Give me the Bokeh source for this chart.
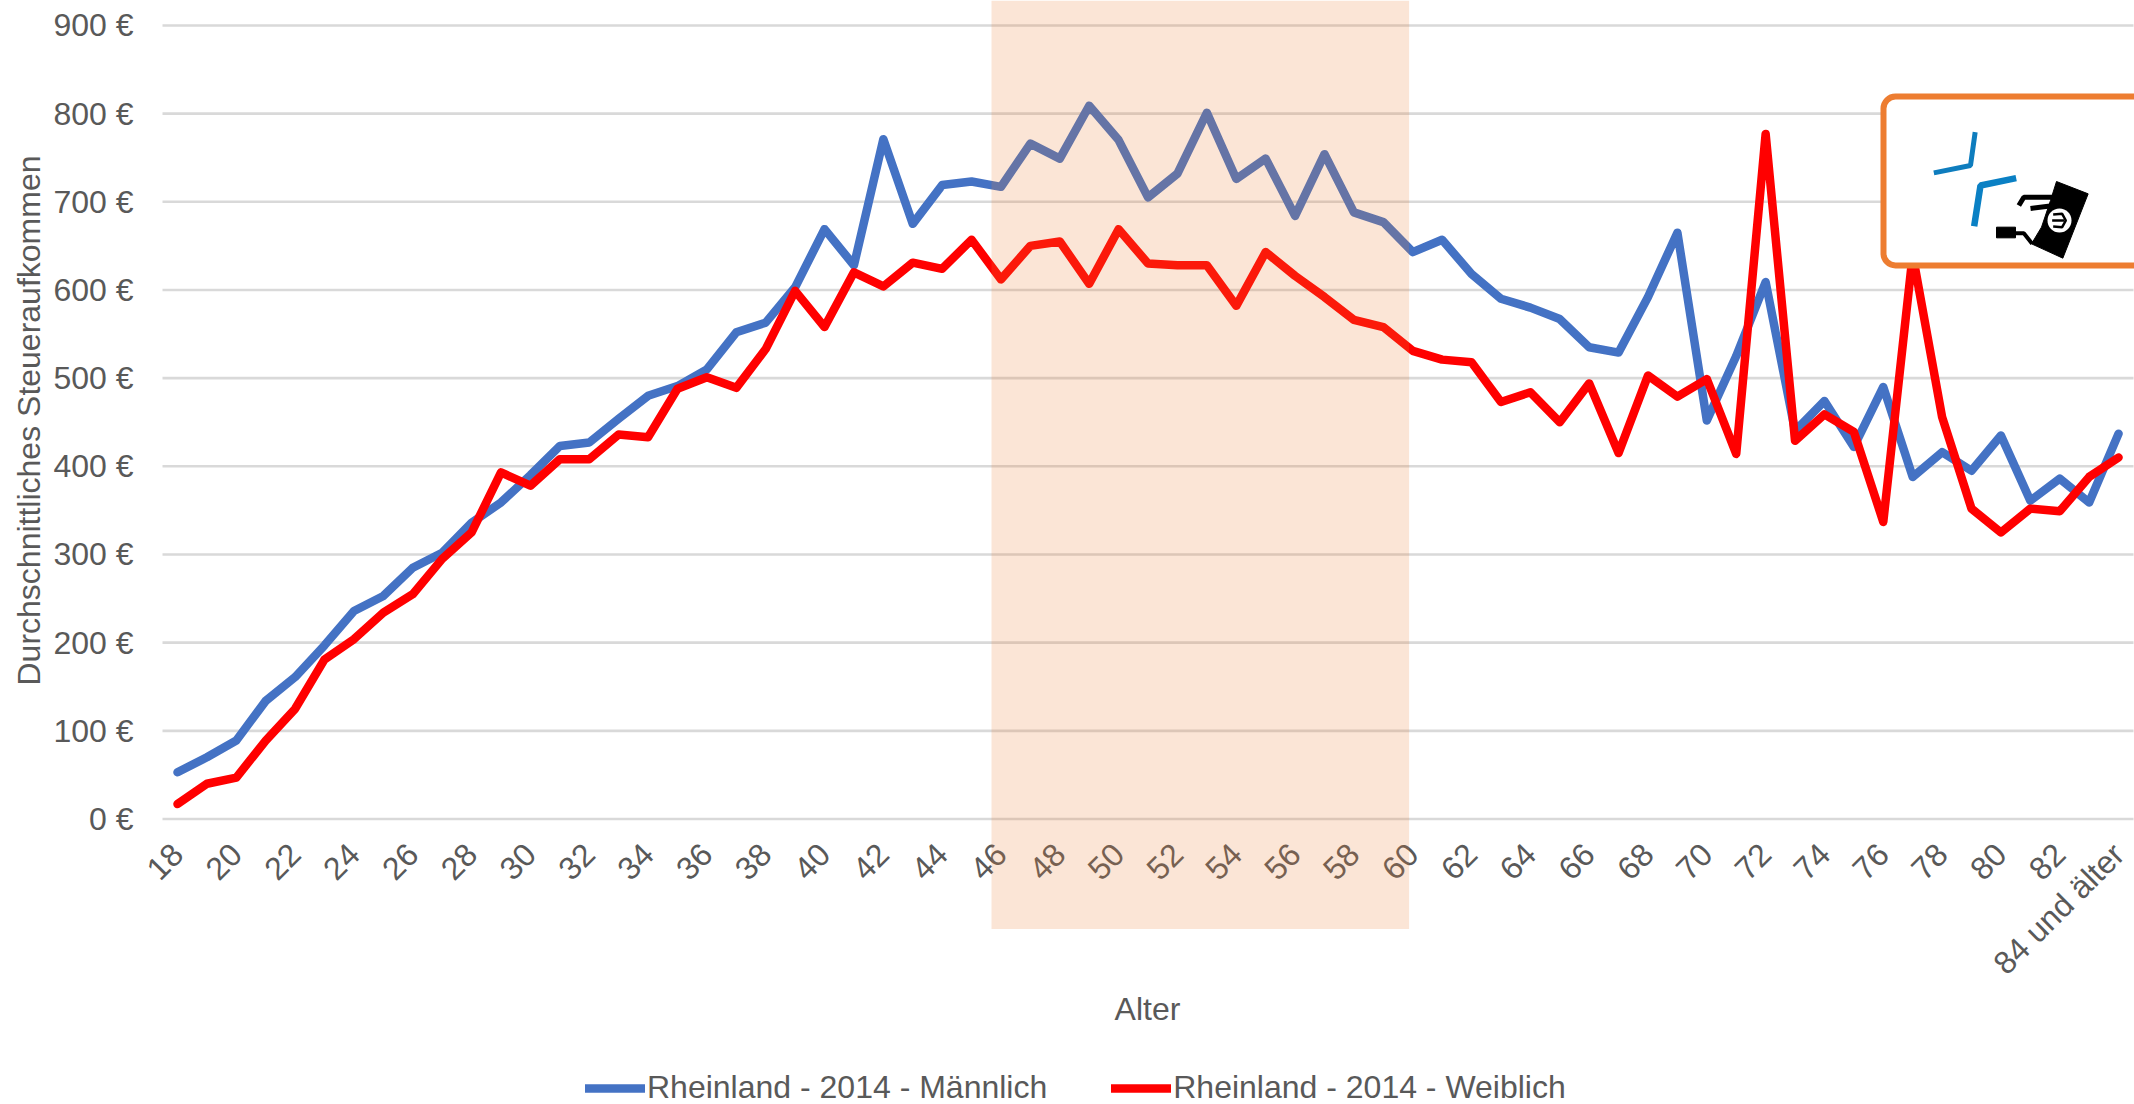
from bokeh.plotting import figure
from bokeh.embed import file_html
from bokeh.resources import INLINE
from bokeh.models import BoxAnnotation, Range1d, FixedTicker, Legend, LegendItem, Label
import math

ages = list(range(18, 85))
last_label = "84 und älter"
maennlich = [53,70,89,134,161,197,236,253,285,302,336,359,390,423,427,454,480,491,510,552,563,603,669,628,771,675,719,723,717,
             766,749,809,770,705,732,801,726,749,684,754,688,677,643,657,618,590,580,567,535,529,592,665,452,525,609,440,474,
             422,490,388,416,395,435,361,386,359,437]
weiblich = [17,40,47,89,125,181,204,234,255,295,325,393,378,408,408,436,433,488,501,489,533,599,558,620,604,631,624,657,612,
            650,655,607,669,630,628,628,582,643,616,592,566,558,531,521,518,473,484,450,494,415,503,479,499,414,777,429,459,
            439,337,640,456,352,325,352,349,388,410]
y_ticks = [0,100,200,300,400,500,600,700,800,900]
series_names = ["Rheinland - 2014 - Männlich", "Rheinland - 2014 - Weiblich"]
x_title = "Alter"
y_title = "Durchschnittliches Steueraufkommen"

W, H = 2134, 1104
FONT = "Liberation Sans"
TXT = "#595959"

def dx(px): return 18 + (px - 177) / 29.41
def dy(py): return (818.5 - py) / 0.8817

p = figure(width=W, height=H, output_backend="svg", toolbar_location=None,
           x_range=Range1d(dx(0), dx(W)), y_range=Range1d(dy(H), dy(0)),
           min_border_left=0, min_border_right=0, min_border_top=0,
           min_border_bottom=0, outline_line_color=None, background_fill_color="white")

p.xgrid.visible = False
p.ygrid.visible = False
p.segment(x0=[dx(162)] * len(y_ticks), x1=[dx(2133)] * len(y_ticks), y0=y_ticks, y1=y_ticks,
          line_color="#D9D9D9", line_width=2.6, level="underlay")

ax = p.xaxis[0]
ax.fixed_location = 0
ax.ticker = FixedTicker(ticks=ages[::2])
ax.major_label_overrides = {a: (last_label if a == 84 else str(a)) for a in ages[::2]}
ax.major_label_orientation = math.pi / 4
ax.major_label_standoff = 24
ay = p.yaxis[0]
ay.fixed_location = dx(140)
ay.ticker = FixedTicker(ticks=y_ticks)
ay.major_label_overrides = {v: f"{v} €" for v in y_ticks}
ay.major_label_standoff = 1
for a in (ax, ay):
    a.axis_line_color = None
    a.major_tick_line_color = None
    a.minor_tick_line_color = None
    a.major_label_text_font = FONT
    a.major_label_text_font_size = "32px"
    a.major_label_text_color = TXT

p.add_layout(Label(x=dx(1147), y=dy(1008), text=x_title, text_align="center", text_baseline="middle",
                   text_font=FONT, text_font_size="32px", text_color=TXT))
p.add_layout(Label(x=dx(28), y=dy(420), text=y_title, angle=math.pi / 2, text_align="center", text_baseline="middle",
                   text_font=FONT, text_font_size="32px", text_color=TXT))

l1 = p.line(ages, maennlich, line_color="#4472C4", line_width=8.5, line_join="round", line_cap="round")
l2 = p.line(ages, weiblich, line_color="#FF0000", line_width=8.5, line_join="round", line_cap="round")

band = BoxAnnotation(left=dx(991), right=dx(1408.6), top=dy(0), bottom=dy(928.5),
                     fill_color="#ED7D31", fill_alpha=0.2, line_color=None, level="overlay")
p.add_layout(band)

box = BoxAnnotation(left=dx(1883), right=dx(2160), top=dy(96), bottom=dy(265),
                    fill_color="white", fill_alpha=1, line_color="#ED7D31", line_alpha=1, line_width=6,
                    border_radius=12, level="annotation")
p.add_layout(box)

# logo inside the box
def zx(v): return dx(1860 + v / 3)
def zy(v): return dy(80 + v / 3)
def ol(xs, ys, c, w, cap="butt"):
    p.line([zx(v) for v in xs], [zy(v) for v in ys], line_color=c, line_width=w, line_cap=cap, level="overlay")
ol([220,330,344],[277,255,155],"#0E7DBE",5)
ol([467,360,341],[293,315,437],"#0A80C4",6.5)
p.patch([zx(v) for v in [588,683,607,513,543,570]], [zy(v) for v in [303,340,533,490,440,360]],
        fill_color="black", line_color="black", level="overlay")
ol([475,490,590],[375,350,350],"black",5)
ol([510,575],[384,376],"black",5)
p.patch([zx(v) for v in [408,465,465,408]], [zy(v) for v in [440,440,472,472]],
        fill_color="black", line_color="black", level="overlay")
ol([465,490,515],[458,458,490],"black",4)
p.scatter([zx(597)], [zy(420)], size=24, marker="circle", fill_color="white", line_color=None, level="overlay")
ol([578,605,616,605,578],[402,400,420,440,438],"black",2.5)
ol([575,612],[420,420],"black",2.5)

legend = Legend(items=[LegendItem(label=series_names[0], renderers=[l1]),
                       LegendItem(label=series_names[1], renderers=[l2])],
                orientation="horizontal", location=(585, -2),
                background_fill_alpha=0, border_line_color=None,
                label_text_font=FONT, label_text_font_size="32px", label_text_color=TXT,
                glyph_width=60, glyph_height=32, label_standoff=2, spacing=64,
                padding=0, margin=0, label_height=32)
p.add_layout(legend)

open("out.html", "w").write(file_html(p, INLINE))
